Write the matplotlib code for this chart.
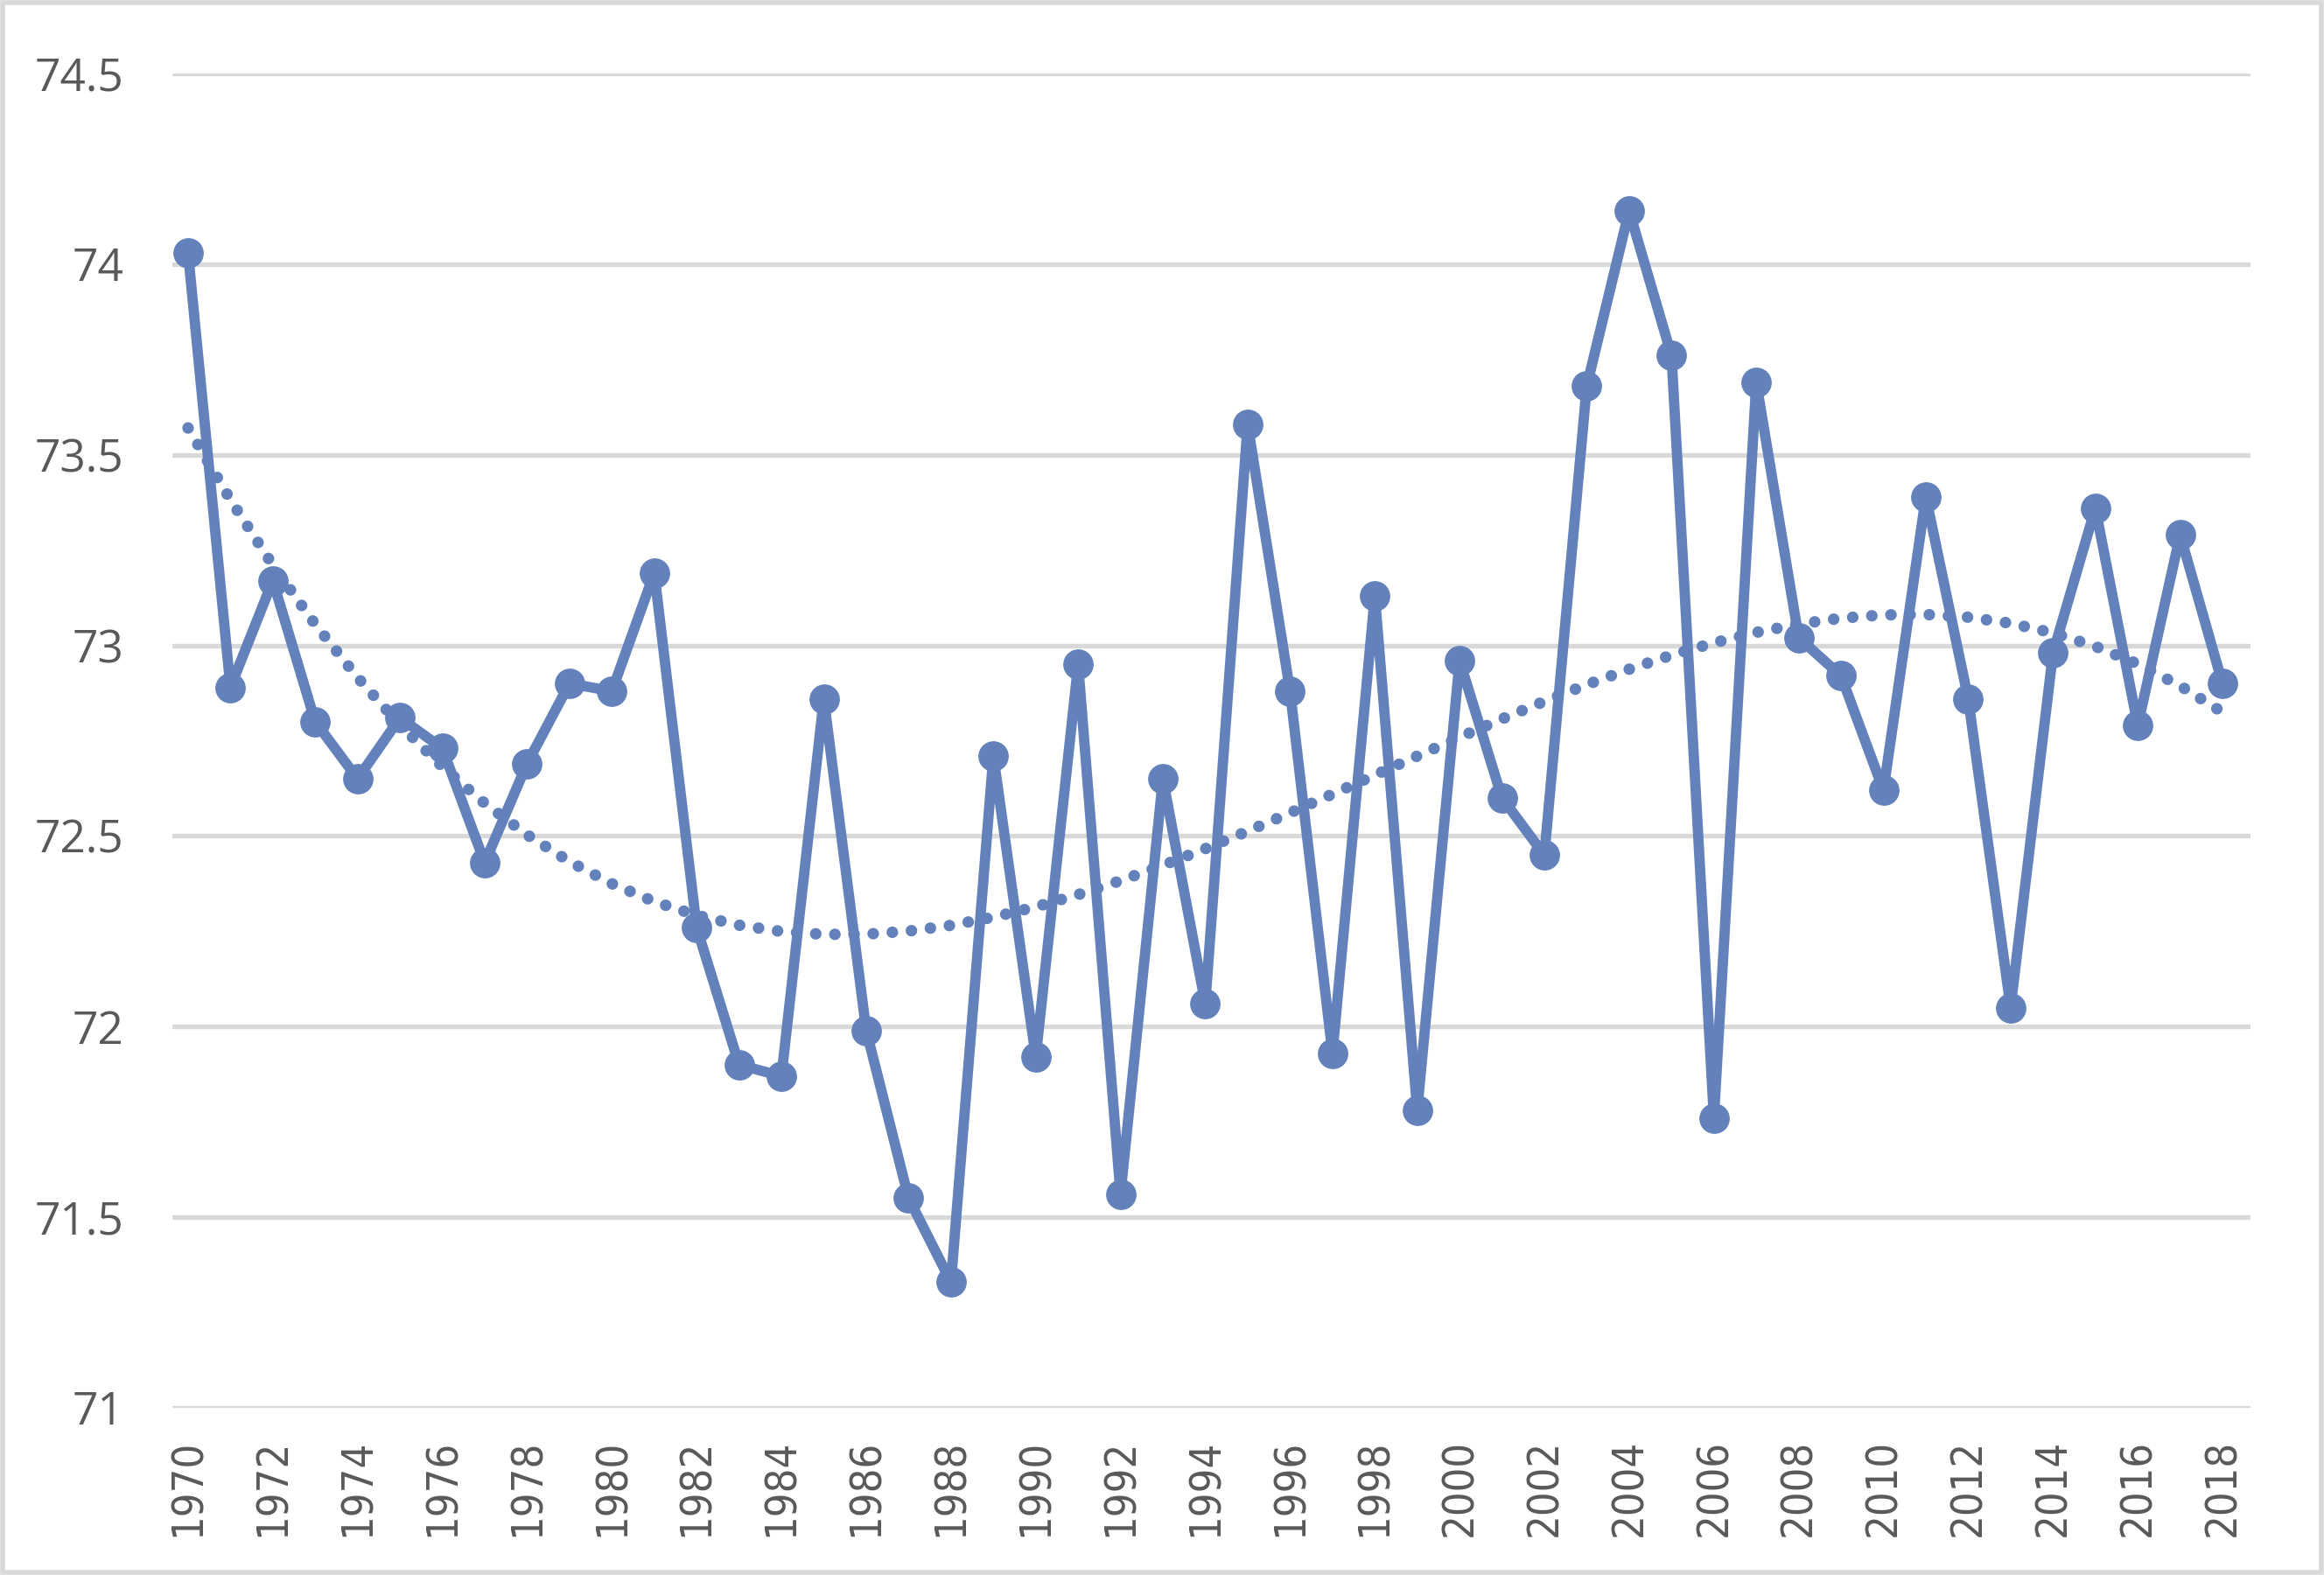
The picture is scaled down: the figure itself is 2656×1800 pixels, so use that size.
import numpy as np
import matplotlib
matplotlib.use("Agg")
import matplotlib.pyplot as plt
import matplotlib.transforms as mtrans
from matplotlib.patches import Rectangle

years = list(range(1970, 2019))
values = [74.03, 72.89, 73.17, 72.80, 72.65, 72.81, 72.73, 72.43, 72.69, 72.90,
          72.88, 73.19, 72.26, 71.90, 71.87, 72.86, 71.99, 71.55, 71.33, 72.71,
          71.92, 72.95, 71.56, 72.65, 72.06, 73.58, 72.88, 71.93, 73.13, 71.78,
          72.96, 72.60, 72.45, 73.68, 74.14, 73.76, 71.76, 73.69, 73.02, 72.92,
          72.62, 73.39, 72.86, 72.05, 72.98, 73.36, 72.79, 73.29, 72.90]
tick_labels = [str(y) for y in years[::2]]
y_ticks = [71, 71.5, 72, 72.5, 73, 73.5, 74, 74.5]
y_labels = ["71", "71.5", "72", "72.5", "73", "73.5", "74", "74.5"]

blue = "#6381BA"
grey_txt = "#595959"
grid_c = "#D9D9D9"

W, H = 2656, 1800
fig = plt.figure(figsize=(W / 100, H / 100), dpi=100)
ax = fig.add_axes([197 / W, 1 - 1609 / H, (2572 - 197) / W, (1609 - 84) / H])

idx = np.arange(len(values))

# polynomial trend (order 3), like the spreadsheet trendline
coef = np.polyfit(idx + 1, values, 3)
trend = np.polyval(coef, idx + 1)
ax.plot(idx, trend, color=blue, lw=9.5, linestyle=(0, (0.01, 1.65)),
        dash_capstyle="round", zorder=3)

ax.plot(idx, values, color=blue, lw=8.5, marker="o", markersize=24,
        solid_joinstyle="round", zorder=4)

ax.set_xlim(-0.37, len(values) - 1 + 0.66)
ax.set_ylim(71, 74.5)
ax.set_yticks(y_ticks)
ax.set_yticklabels(y_labels)
ax.set_xticks(idx[::2])
ax.set_xticklabels(tick_labels, rotation=90)

shift = mtrans.ScaledTranslation(6 / 100, 0, fig.dpi_scale_trans)
for lab in ax.get_yticklabels():
    lab.set_family("Open Sans")
    lab.set_fontsize(37)
    lab.set_color(grey_txt)
for lab in ax.get_xticklabels():
    lab.set_family("DejaVu Sans")
    lab.set_stretch("condensed")
    lab.set_fontsize(35)
    lab.set_color(grey_txt)
    lab.set_transform(lab.get_transform() + shift)

ax.tick_params(axis="y", length=0, pad=40)
ax.tick_params(axis="x", length=0, pad=26)
ax.grid(axis="y", color=grid_c, lw=3.8)
ax.set_axisbelow(True)
for s in ax.spines.values():
    s.set_visible(False)

fig.patches.append(Rectangle((0.001, 0.0015), 0.998, 0.997, transform=fig.transFigure,
                             fill=False, edgecolor=grid_c, lw=4))

fig.savefig("out.png", dpi=100)
